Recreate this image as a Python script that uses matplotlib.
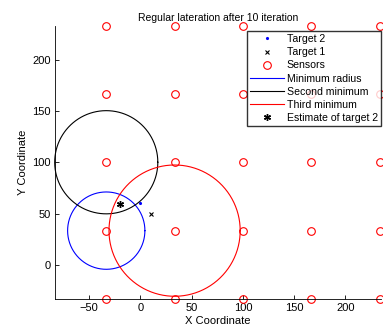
import numpy as np
import matplotlib
matplotlib.use("Agg")
import matplotlib.pyplot as plt

# Data
sensor_x = [-33.33, 33.33, 100.0, 166.67, 233.33]
sensor_y = [-33.33, 33.33, 100.0, 166.67, 233.33]
target2 = (0.0, 60.0)
target1 = (10.0, 50.0)
estimate2 = (-20.0, 59.0)
circle_centers = [(-33.33, 33.33), (-33.33, 100.0), (33.33, 33.33)]
circle_radii = [37.7, 50.3, 64.0]
circle_colors = ["blue", "black", "red"]
circle_labels = ["Minimum radius", "Second minimum", "Third minimum"]
xticks = [-50, 0, 50, 100, 150, 200]
yticks = [0, 50, 100, 150, 200]

plt.rcParams['font.family'] = ['Liberation Sans', 'DejaVu Sans']

fig = plt.figure(figsize=(3.83, 3.31), dpi=100)
W, H = 383, 331
x0, x1 = 55, 381
y_top, y_bot = 25.5, 299
ax = fig.add_axes([x0 / W, 1 - y_bot / H, (x1 - x0) / W, (y_bot - y_top) / H])

sx, sy = np.meshgrid(sensor_x, sensor_y)

ax.plot([target2[0]], [target2[1]], '.', color='blue', markersize=2.5, label='Target 2', clip_on=False)
ax.plot([target1[0]], [target1[1]], 'x', color='black', markersize=3.5, markeredgewidth=0.8, label='Target 1', clip_on=False)
ax.plot(sx.ravel(), sy.ravel(), 'o', color='red', markerfacecolor='none', markersize=5.5,
        markeredgewidth=0.8, linestyle='none', label='Sensors', clip_on=False)

t = np.linspace(0, 2 * np.pi, 400)
for (cx, cy), r, c, lab in zip(circle_centers, circle_radii, circle_colors, circle_labels):
    ax.plot(cx + r * np.cos(t), cy + r * np.sin(t), color=c, linewidth=0.8, label=lab, clip_on=False)

ax.plot([estimate2[0]], [estimate2[1]], marker=(6, 2, 0), color='black', markersize=5,
        markeredgewidth=1.0, linestyle='none', label='Estimate of target 2', clip_on=False)

ax.set_xlim(-83.33, 234.7)
ax.set_ylim(-33.33, 233.33)
ax.set_xticks(xticks)
ax.set_yticks(yticks)
ax.tick_params(direction='in', length=3, width=0.6, labelsize=8, colors='black', pad=3)
for s in ['top', 'right']:
    ax.spines[s].set_visible(False)
for s in ['left', 'bottom']:
    ax.spines[s].set_linewidth(0.6)

ax.set_title('Regular lateration after 10 iteration', fontsize=7.5, pad=3)
ax.set_xlabel('X Coordinate', fontsize=8, labelpad=2)
ax.set_ylabel('Y Coordinate', fontsize=8, labelpad=3)

leg = ax.legend(loc='upper left', bbox_to_anchor=(247 / W, 1 - 31 / H), bbox_transform=fig.transFigure,
                fontsize=7.6, frameon=True, fancybox=False,
                borderpad=0.3, labelspacing=0.3, handlelength=3.2, handletextpad=0.25, borderaxespad=0)
leg.get_frame().set_edgecolor('black')
leg.get_frame().set_linewidth(1.0)

fig.savefig('out.png', dpi=100)
